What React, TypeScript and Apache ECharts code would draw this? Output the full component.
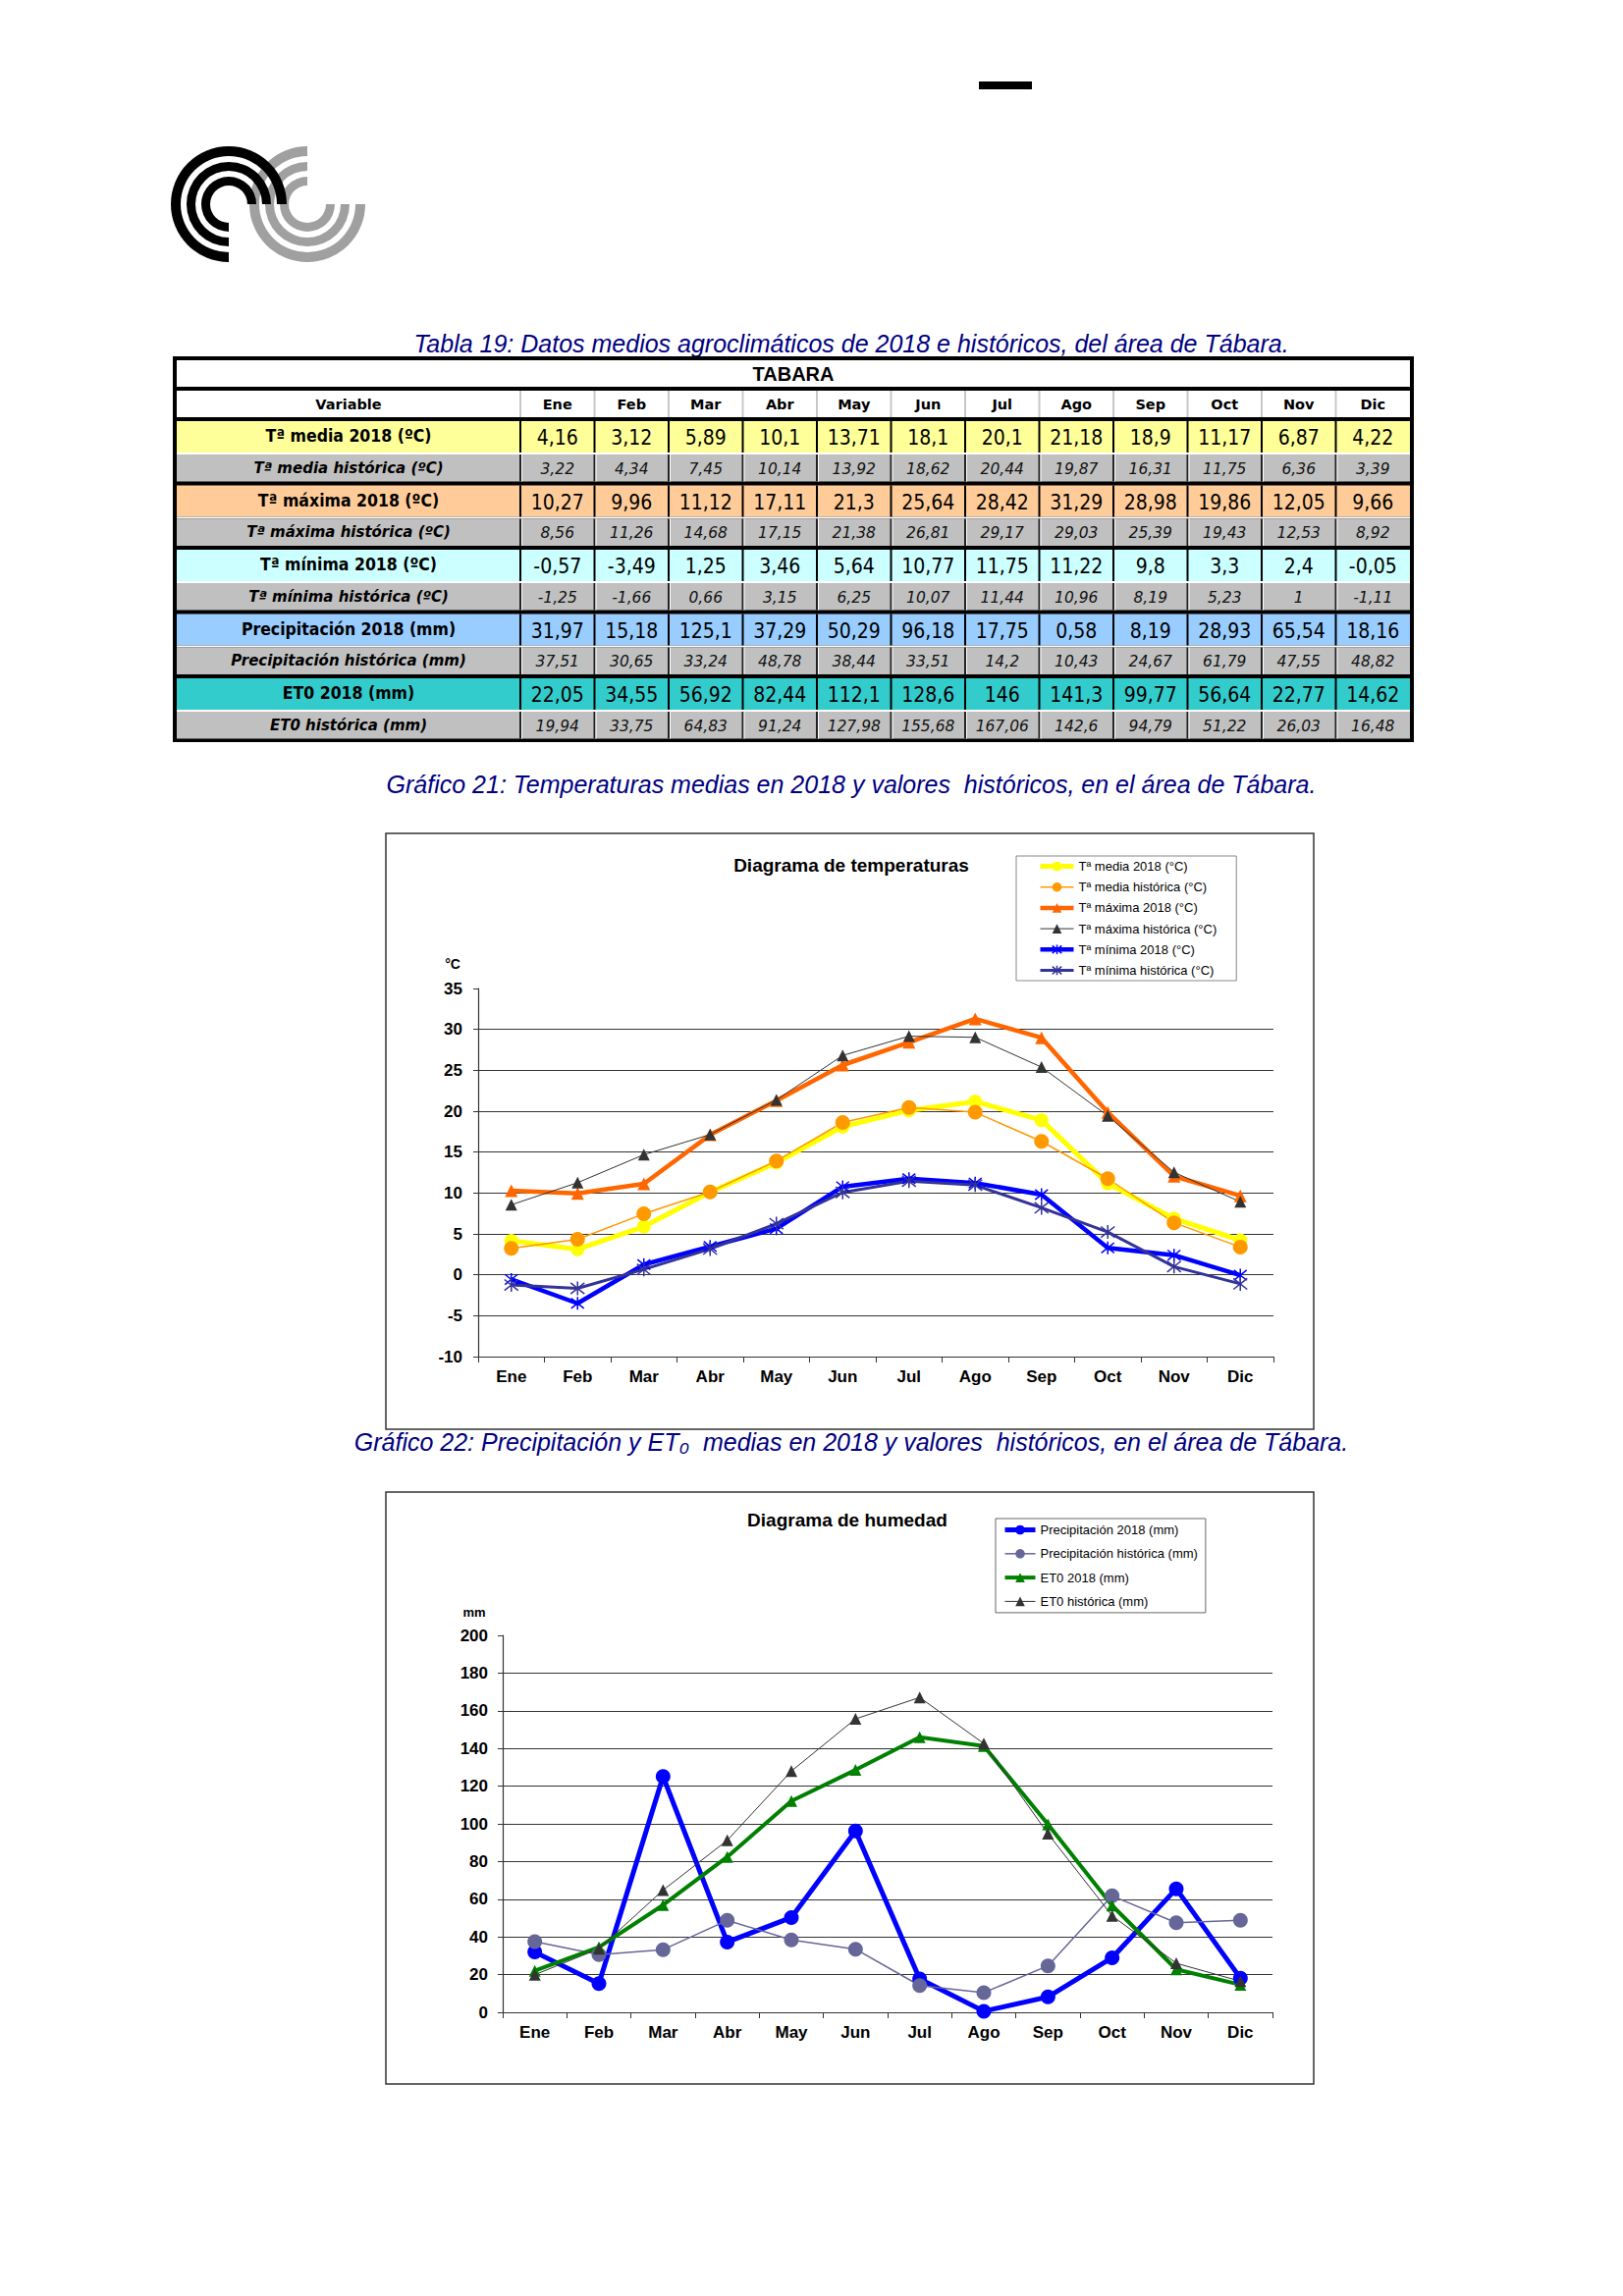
import React, { useEffect, useRef } from 'react';
import * as echarts from 'echarts';

const months = ['Ene', 'Feb', 'Mar', 'Abr', 'May', 'Jun', 'Jul', 'Ago', 'Sep', 'Oct', 'Nov', 'Dic'];

const media2018 = [4.16, 3.12, 5.89, 10.1, 13.71, 18.1, 20.1, 21.18, 18.9, 11.17, 6.87, 4.22];
const mediaHist = [3.22, 4.34, 7.45, 10.14, 13.92, 18.62, 20.44, 19.87, 16.31, 11.75, 6.36, 3.39];
const maxima2018 = [10.27, 9.96, 11.12, 17.11, 21.3, 25.64, 28.42, 31.29, 28.98, 19.86, 12.05, 9.66];
const maximaHist = [8.56, 11.26, 14.68, 17.15, 21.38, 26.81, 29.17, 29.03, 25.39, 19.43, 12.53, 8.92];
const minima2018 = [-0.57, -3.49, 1.25, 3.46, 5.64, 10.77, 11.75, 11.22, 9.8, 3.3, 2.4, -0.05];
const minimaHist = [-1.25, -1.66, 0.66, 3.15, 6.25, 10.07, 11.44, 10.96, 8.19, 5.23, 1, -1.11];
const precip2018 = [31.97, 15.18, 125.1, 37.29, 50.29, 96.18, 17.75, 0.58, 8.19, 28.93, 65.54, 18.16];
const precipHist = [37.51, 30.65, 33.24, 48.78, 38.44, 33.51, 14.2, 10.43, 24.67, 61.79, 47.55, 48.82];
const et02018 = [22.05, 34.55, 56.92, 82.44, 112.1, 128.6, 146, 141.3, 99.77, 56.64, 22.77, 14.62];
const et0Hist = [19.94, 33.75, 64.83, 91.24, 127.98, 155.68, 167.06, 142.6, 94.79, 51.22, 26.03, 16.48];

const tempTicks = { min: -10, max: 35, interval: 5 };
const humTicks = { min: 0, max: 200, interval: 20 };

const tableLabels2018 = ['Tª media 2018 (ºC)', 'Tª máxima 2018 (ºC)', 'Tª mínima 2018 (ºC)', 'Precipitación 2018 (mm)', 'ET0 2018 (mm)'];
const tableLabelsHist = ['Tª media histórica (ºC)', 'Tª máxima histórica (ºC)', 'Tª mínima histórica (ºC)', 'Precipitación histórica (mm)', 'ET0 histórica (mm)'];
const tableValues2018 = [media2018, maxima2018, minima2018, precip2018, et02018];
const tableValuesHist = [mediaHist, maximaHist, minimaHist, precipHist, et0Hist];
const rowColors = ['#FFFF99', '#FFCC99', '#CCFFFF', '#99CCFF', '#33CCCC'];

const tempNames = ['Tª media 2018 (°C)', 'Tª media histórica (°C)', 'Tª máxima 2018 (°C)', 'Tª máxima histórica (°C)', 'Tª mínima 2018 (°C)', 'Tª mínima histórica (°C)'];
const humNames = ['Precipitación 2018 (mm)', 'Precipitación histórica (mm)', 'ET0 2018 (mm)', 'ET0 histórica (mm)'];

const ASTERISK = 'path://M5,0L5,10M1,1L9,9M9,1L1,9';
const SANS = 'Liberation Sans, Arial, sans-serif';
const WIDE = 'DejaVu Sans, Verdana, sans-serif';
const COND = 'DejaVu Sans Condensed, DejaVu Sans, sans-serif';

const tempStyles = [
  { color: '#FFFF00', width: 5, symbol: 'circle', size: 14, bw: 0 },
  { color: '#FF9900', width: 1.5, symbol: 'circle', size: 15, bw: 0 },
  { color: '#FF6600', width: 4.5, symbol: 'triangle', size: 13, bw: 0 },
  { color: '#333333', width: 1, symbol: 'triangle', size: 12, bw: 0 },
  { color: '#0000FF', width: 4.5, symbol: ASTERISK, size: 13, bw: 1.5 },
  { color: '#333399', width: 3, symbol: ASTERISK, size: 14, bw: 1.5 },
];
const humStyles = [
  { color: '#0000FF', width: 5, symbol: 'circle', size: 15, bw: 0 },
  { color: '#666699', width: 1.5, symbol: 'circle', size: 15, bw: 0 },
  { color: '#008000', width: 4, symbol: 'triangle', size: 12, bw: 0 },
  { color: '#333333', width: 1, symbol: 'triangle', size: 12, bw: 0 },
];

const fmt = (v: number) => String(v).replace('.', ',');

function buildGraphic() {
  const g: any[] = [];
  const rings = [[49, 59], [34, 43], [19, 28]];
  rings.forEach(([r0, r]) => {
    g.push({ type: 'sector', shape: { cx: 313, cy: 208, r0, r, startAngle: 0, endAngle: Math.PI * 1.5, clockwise: true }, style: { fill: '#A0A0A0' } });
  });
  rings.forEach(([r0, r]) => {
    g.push({ type: 'sector', shape: { cx: 233, cy: 208, r0, r, startAngle: Math.PI / 2, endAngle: Math.PI * 2, clockwise: true }, style: { fill: '#000' } });
  });
  g.push({ type: 'rect', shape: { x: 997, y: 83, width: 54, height: 8 }, style: { fill: '#000' } });

  const caption = (text: string, x: number, y: number) => ({
    type: 'text', x, y,
    style: { text, fill: '#000080', fontFamily: SANS, fontStyle: 'italic', fontSize: 25, align: 'center', verticalAlign: 'middle' },
  });
  g.push(caption('Tabla 19: Datos medios agroclimáticos de 2018 e históricos, del área de Tábara.', 867, 350));
  g.push(caption('Gráfico 21: Temperaturas medias en 2018 y valores  históricos, en el área de Tábara.', 867, 799));
  g.push(caption('Gráfico 22: Precipitación y ET₀  medias en 2018 y valores  históricos, en el área de Tábara.', 867, 1469));

  const TL = 176, TT = 363, TR = 1440, TB = 756;
  const IL = 180, IR = 1436, VC = 530;
  const colW = (IR - VC) / 12;
  g.push({ type: 'rect', shape: { x: TL, y: TT, width: TR - TL, height: TB - TT }, style: { fill: '#000' } });
  g.push({ type: 'rect', shape: { x: IL, y: 367, width: IR - IL, height: 27 }, style: { fill: '#fff' } });
  g.push({ type: 'text', x: (TL + TR) / 2, y: 381, style: { text: 'TABARA', fontFamily: SANS, fontWeight: 'bold', fontSize: 20, fill: '#000', align: 'center', verticalAlign: 'middle' } });
  g.push({ type: 'rect', shape: { x: IL, y: 398, width: IR - IL, height: 27 }, style: { fill: '#fff' } });
  for (let i = 0; i < 12; i++) {
    const x = VC + i * colW;
    g.push({ type: 'rect', shape: { x: x - 1, y: 398, width: 2, height: 27 }, style: { fill: '#C8C8C8' } });
  }
  const hdrStyle = { fontFamily: WIDE, fontWeight: 'bold', fontSize: 14.5, fill: '#000', align: 'center', verticalAlign: 'middle' };
  g.push({ type: 'text', x: (IL + VC) / 2, y: 412, style: { ...hdrStyle, text: 'Variable' } });
  months.forEach((m, i) => {
    g.push({ type: 'text', x: VC + (i + 0.5) * colW, y: 412, style: { ...hdrStyle, text: m } });
  });

  for (let r = 0; r < 5; r++) {
    const y0 = 429 + r * 65.5;
    const hy0 = y0 + 34;
    const hh = 27.5;
    g.push({ type: 'rect', shape: { x: IL, y: y0, width: IR - IL, height: 32 }, style: { fill: rowColors[r] } });
    g.push({ type: 'rect', shape: { x: IL, y: y0 + 32, width: IR - IL, height: 2 }, style: { fill: '#fff' } });
    g.push({ type: 'rect', shape: { x: IL, y: hy0, width: IR - IL, height: hh }, style: { fill: '#C0C0C0' } });
    for (let i = 0; i < 12; i++) {
      const x = VC + i * colW;
      g.push({ type: 'rect', shape: { x: x - 1, y: y0, width: 2, height: 32 }, style: { fill: '#000' } });
      g.push({ type: 'rect', shape: { x: x - 1, y: hy0, width: 2, height: hh }, style: { fill: '#222' } });
      g.push({ type: 'rect', shape: { x: x + 1, y: hy0, width: 1, height: hh }, style: { fill: '#fff' } });
    }
    g.push({ type: 'text', x: (IL + VC) / 2, y: y0 + 15, style: { text: tableLabels2018[r], fontFamily: COND, fontWeight: 'bold', fontSize: 17.5, fill: '#000', align: 'center', verticalAlign: 'middle' } });
    g.push({ type: 'text', x: (IL + VC) / 2, y: hy0 + hh / 2, style: { text: tableLabelsHist[r], fontFamily: WIDE, fontWeight: 'bold', fontStyle: 'italic', fontSize: 15, fill: '#000', align: 'center', verticalAlign: 'middle' } });
    tableValues2018[r].forEach((v, i) => {
      g.push({ type: 'text', x: VC + (i + 0.5) * colW, y: y0 + 17, style: { text: fmt(v), fontFamily: COND, fontSize: 21, fill: '#000', align: 'center', verticalAlign: 'middle' } });
    });
    tableValuesHist[r].forEach((v, i) => {
      g.push({ type: 'text', x: VC + (i + 0.5) * colW, y: hy0 + hh / 2 + 1, style: { text: fmt(v), fontFamily: WIDE, fontStyle: 'italic', fontSize: 15.5, fill: '#111', align: 'center', verticalAlign: 'middle' } });
    });
  }

  g.push({ type: 'rect', z: -5, shape: { x: 393, y: 849, width: 945, height: 607 }, style: { fill: '#fff', stroke: '#333', lineWidth: 1.5 } });
  g.push({ type: 'rect', z: -5, shape: { x: 393, y: 1520, width: 945, height: 603 }, style: { fill: '#fff', stroke: '#333', lineWidth: 1.5 } });
  const titleStyle = { fontFamily: SANS, fontWeight: 'bold', fontSize: 19, fill: '#000', align: 'center', verticalAlign: 'middle' };
  g.push({ type: 'text', x: 867, y: 881, style: { ...titleStyle, text: 'Diagrama de temperaturas' } });
  g.push({ type: 'text', x: 863, y: 1548, style: { ...titleStyle, text: 'Diagrama de humedad' } });
  g.push({ type: 'text', x: 461, y: 982, style: { text: '°C', fontFamily: SANS, fontWeight: 'bold', fontSize: 14, fill: '#000', align: 'center', verticalAlign: 'middle' } });
  g.push({ type: 'text', x: 483, y: 1642, style: { text: 'mm', fontFamily: SANS, fontWeight: 'bold', fontSize: 13, fill: '#000', align: 'center', verticalAlign: 'middle' } });
  return g;
}

function axisX(gridIndex: number, margin: number) {
  return {
    type: 'category', gridIndex, data: months, boundaryGap: true,
    axisLine: { show: true, onZero: false, lineStyle: { color: '#333', width: 1.2 } },
    axisTick: { show: true, length: 6, lineStyle: { color: '#333' } },
    axisLabel: { color: '#000', fontFamily: SANS, fontWeight: 'bold', fontSize: 17, margin },
    splitLine: { show: false },
  };
}

function axisY(gridIndex: number, t: { min: number; max: number; interval: number }, margin: number) {
  return {
    type: 'value', gridIndex, min: t.min, max: t.max, interval: t.interval,
    axisLine: { show: true, lineStyle: { color: '#333', width: 1.2 } },
    axisTick: { show: true, length: 5, lineStyle: { color: '#333' } },
    axisLabel: { color: '#000', fontFamily: SANS, fontWeight: 'bold', fontSize: 17, margin },
    splitLine: { show: true, showMaxLine: false, lineStyle: { color: '#333', width: 1 } },
  };
}

function line(name: string, data: number[], s: any, axis: number) {
  return {
    type: 'line', name, data, xAxisIndex: axis, yAxisIndex: axis,
    symbol: s.symbol, symbolSize: s.size, showAllSymbol: true,
    lineStyle: { color: s.color, width: s.width },
    itemStyle: { color: s.color, borderColor: s.color, borderWidth: s.bw },
    emphasis: { disabled: true },
  };
}

function legendData(names: string[], styles: any[]) {
  return names.map((name, i) => ({
    name,
    lineStyle: { color: styles[i].color, width: styles[i].width },
    itemStyle: { color: styles[i].color, borderColor: styles[i].color, borderWidth: styles[i].bw },
  }));
}

export default function App() {
  const ref = useRef<HTMLDivElement>(null);
  useEffect(() => {
    const chart = echarts.init(ref.current!, null, { renderer: 'svg', width: 1653, height: 2339 });
    const option: any = {
      animation: false,
      backgroundColor: '#fff',
      textStyle: { fontFamily: SANS },
      graphic: buildGraphic(),
      grid: [
        { left: 487, top: 1007, width: 810, height: 375 },
        { left: 512, top: 1666, width: 784, height: 384 },
      ],
      xAxis: [axisX(0, 12), axisX(1, 12)],
      yAxis: [axisY(0, tempTicks, 16), axisY(1, humTicks, 15)],
      legend: [
        {
          data: legendData(tempNames, tempStyles), orient: 'vertical', left: 1035, top: 872,
          padding: [4, 20, 4, 22], itemGap: 8.2, itemWidth: 34, itemHeight: 12,
          backgroundColor: '#fff', borderColor: '#888', borderWidth: 1,
          textStyle: { fontFamily: SANS, fontSize: 13, color: '#000', lineHeight: 12 },
          selectedMode: false,
        },
        {
          data: legendData(humNames, humStyles), orient: 'vertical', left: 1014, top: 1547,
          padding: [5, 8, 5, 7], itemGap: 11.3, itemWidth: 31, itemHeight: 12,
          backgroundColor: '#fff', borderColor: '#666', borderWidth: 1,
          textStyle: { fontFamily: SANS, fontSize: 13, color: '#000', lineHeight: 12 },
          selectedMode: false,
        },
      ],
      series: [
        ...tempNames.map((n, i) => line(n, [media2018, mediaHist, maxima2018, maximaHist, minima2018, minimaHist][i], tempStyles[i], 0)),
        ...humNames.map((n, i) => line(n, [precip2018, precipHist, et02018, et0Hist][i], humStyles[i], 1)),
      ],
    };
    chart.setOption(option);
    return () => chart.dispose();
  }, []);
  return <div ref={ref} style={{ position: 'absolute', left: 0, top: 0, width: 1653, height: 2339, background: '#fff' }} />;
}
